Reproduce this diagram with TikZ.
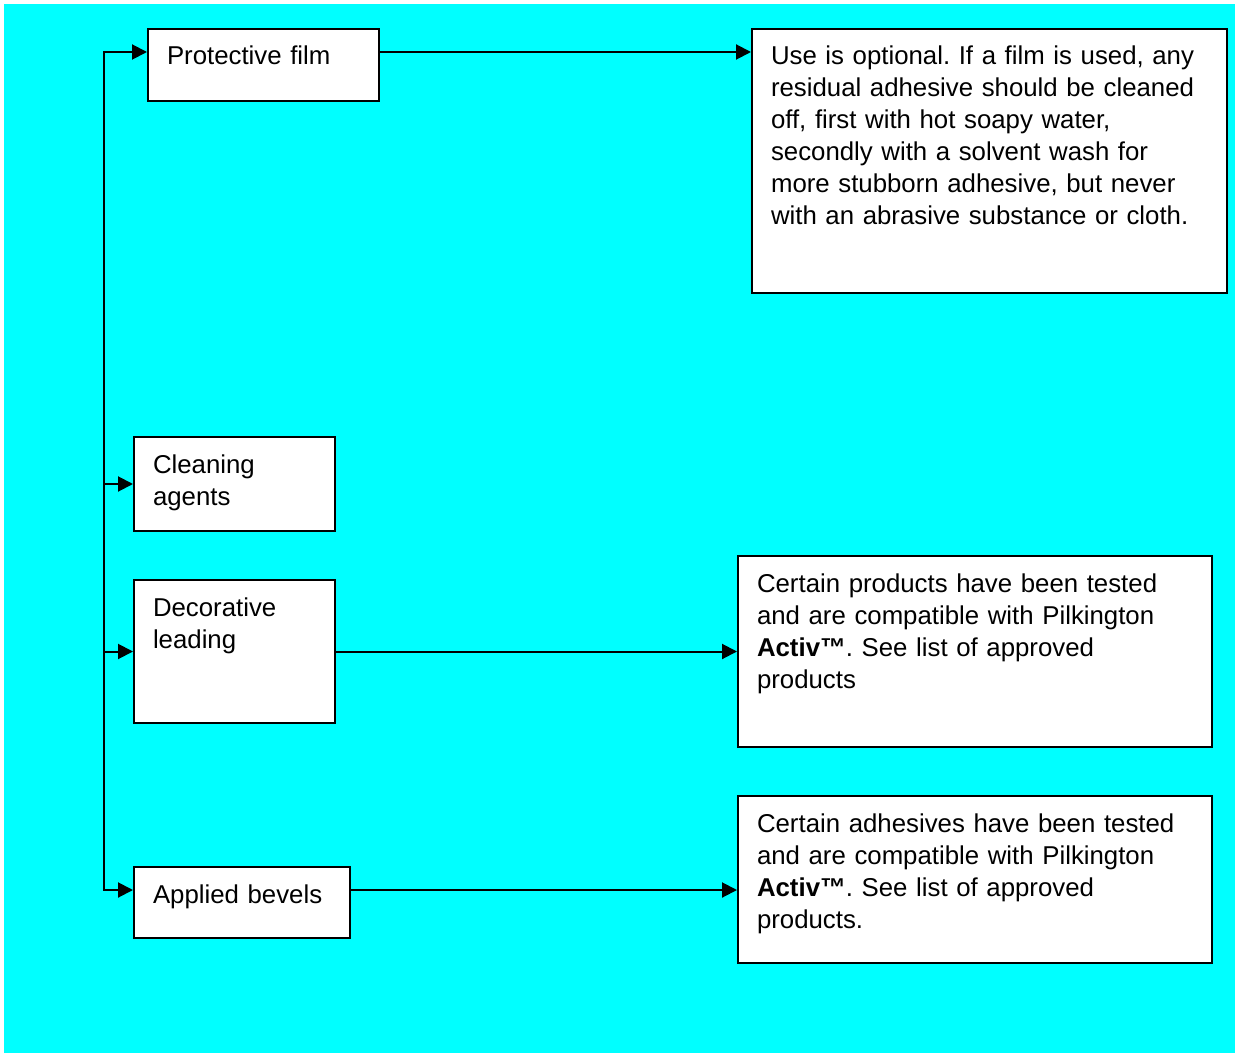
\documentclass[tikz,border=0pt]{standalone}
\usepackage{fontspec}
\setmainfont{Liberation Sans}
\usetikzlibrary{positioning,arrows.meta}
\definecolor{panelcyan}{RGB}{0,255,255}
\tikzset{
  box/.style={rectangle, draw=black, line width=1pt, fill=white, anchor=north west, align=left, inner xsep=9.5pt, inner ysep=8pt, text height=10pt, font=\fontsize{12.9pt}{16pt}\selectfont\frenchspacing},
  arr/.style={line width=1pt, -{Triangle[length=7.5pt,width=7.5pt]}}
}
\begin{document}
\begin{tikzpicture}[x=0.5pt,y=-0.5pt]
	\useasboundingbox (0,0) rectangle (1235,1053);
	\fill[panelcyan] (4,4) rectangle (1235,1053);
	% left column
	\node[box, text width=96.5pt, text depth=10pt] (film) at (147,28) {Protective film};
	\node[box, text width=81.5pt, text depth=21pt] (cleaning) at (133,436) {Cleaning\\ agents};
	\node[box, text width=81.5pt, text depth=45.5pt] (leading) at (133,579) {Decorative\\ leading};
	\node[box, text width=89pt, text depth=9.5pt] (bevels) at (133,866) {Applied bevels};
	% right column
	\node[box, text width=218.5pt, text depth=106pt] (filmnote) at (751,28) {Use is optional. If a film is used, any\\ residual adhesive should be cleaned\\ off, first with hot soapy water,\\ secondly with a solvent wash for\\ more stubborn adhesive, but never\\ with an abrasive substance or cloth.};
	\node[box, text width=218pt, text depth=69.5pt] (leadingnote) at (737,555) {Certain products have been tested\\ and are compatible with Pilkington\\ \textbf{Activ™}. See list of approved\\ products};
	\node[box, text width=218pt, text depth=57.5pt] (bevelsnote) at (737,795) {Certain adhesives have been tested\\ and are compatible with Pilkington\\ \textbf{Activ™}. See list of approved\\ products.};
	%
	\coordinate (bustop) at (104,52);
	\coordinate (busbot) at (104,890);
	\draw[arr] (busbot) -- (bustop) -- (film.west |- bustop);
	\draw[arr] (bustop) -- (busbot) -- (bevels.west |- busbot);
	\draw[arr] (bustop |- cleaning.west) -- (cleaning.west);
	\draw[arr] (bustop |- leading.west) -- (leading.west);
	%
	\draw[arr] (film.east |- bustop) -- (filmnote.west |- bustop);
	\draw[arr] (leading.east) -- (leadingnote.west);
	\draw[arr] (bevels.east |- busbot) -- (bevelsnote.west |- busbot);
\end{tikzpicture}
\end{document}
